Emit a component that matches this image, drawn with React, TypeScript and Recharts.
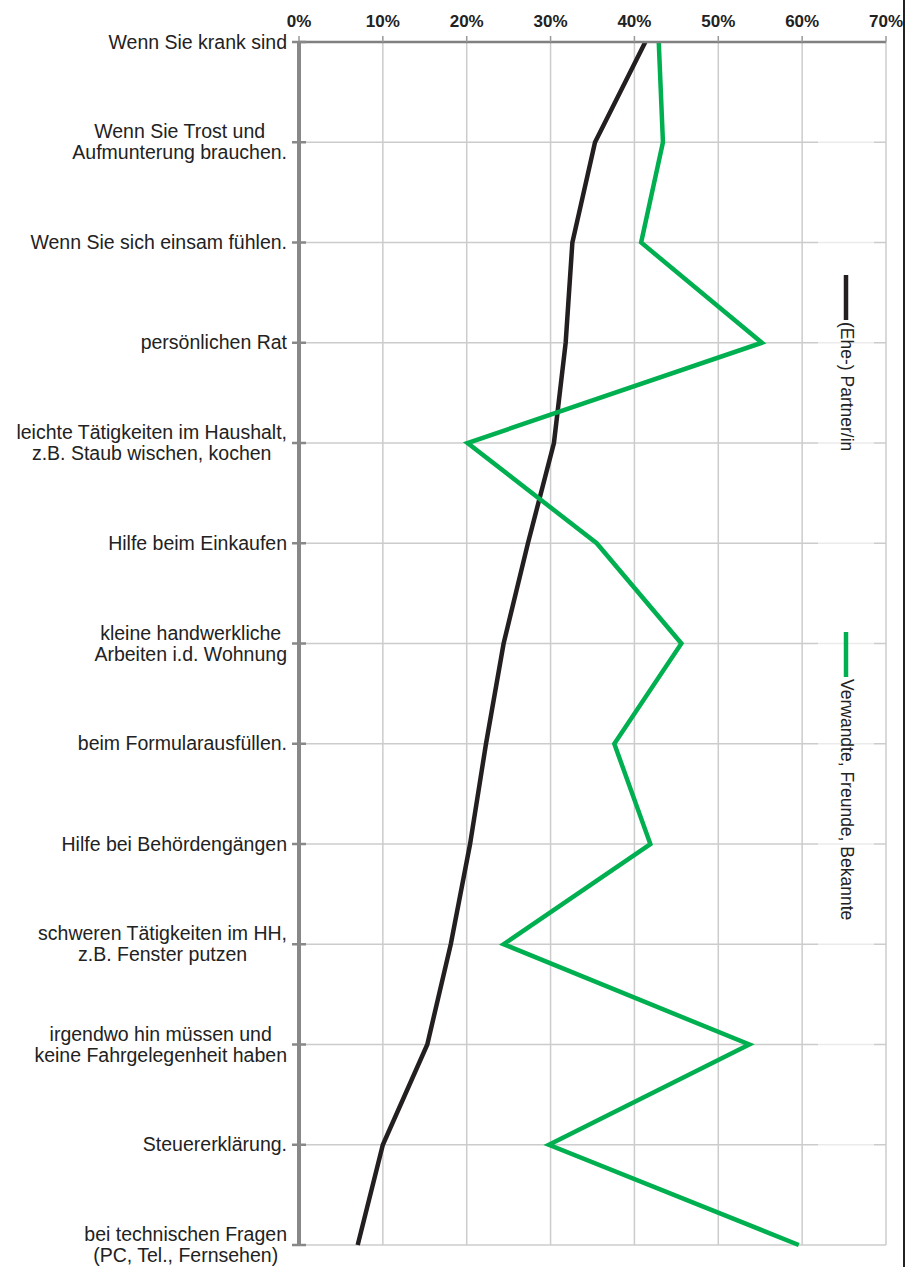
import { LineChart, Line, XAxis, YAxis, CartesianGrid, Legend } from 'recharts';

// Hilfe-Kategorien (Zeilenumbruch mit \n)
const categories = [
    'Wenn Sie krank sind',
    'Wenn Sie Trost und\nAufmunterung brauchen.',
    'Wenn Sie sich einsam fühlen.',
    'persönlichen Rat',
    'leichte Tätigkeiten im Haushalt,\nz.B. Staub wischen, kochen',
    'Hilfe beim Einkaufen',
    'kleine handwerkliche\nArbeiten i.d. Wohnung',
    'beim Formularausfüllen.',
    'Hilfe bei Behördengängen',
    'schweren Tätigkeiten im HH,\nz.B. Fenster putzen',
    'irgendwo hin müssen und\nkeine Fahrgelegenheit haben',
    'Steuererklärung.',
    'bei technischen Fragen\n(PC, Tel., Fernsehen)',
];

const partnerValues = [41.3, 35.3, 32.6, 31.8, 30.4, 27.3, 24.4, 22.3, 20.4, 18.1, 15.3, 10.0, 7.0];
const friendsValues = [42.9, 43.4, 40.8, 55.2, 20.1, 35.5, 45.6, 37.6, 41.9, 24.4, 53.7, 29.8, 59.6];

const xTicks = [0, 10, 20, 30, 40, 50, 60, 70];

const seriesNames = ['(Ehe-) Partner/in', 'Verwandte, Freunde, Bekannte'];
const seriesColors = ['#231f20', '#00b050'];

const FONT = '"Liberation Sans", Arial, sans-serif';

const chartData = categories.map((name, i) => ({
    name,
    partner: partnerValues[i],
    friends: friendsValues[i],
}));

/**
 * Top axis percentage label
 */
function PercentTick({ x, payload }: any) {
    return (
        <text x={x} y={27} textAnchor="middle" fontFamily={FONT} fontSize={17} fontWeight="bold" fill="#222">
            {`${payload.value}%`}
        </text>
    );
}

/**
 * Category label, lines centred against each other, block right-aligned
 */
function CategoryTick({ y, payload }: any) {
    const lines = String(payload.value).split('\n');
    return (
        <g>
            <line x1={292} x2={306} y1={y} y2={y} stroke="#888" strokeWidth={2.5} />
            <foreignObject x={0} y={y - 30} width={287} height={60}>
                <div
                    style={{
                        width: 287,
                        height: 60,
                        display: 'flex',
                        alignItems: 'center',
                        justifyContent: 'flex-end',
                    }}
                >
                    <div
                        style={{
                            textAlign: 'center',
                            fontFamily: FONT,
                            fontSize: 19.5,
                            lineHeight: '21px',
                            color: '#222',
                            whiteSpace: 'nowrap',
                        }}
                    >
                        {lines.map((l, i) => (
                            <div key={i}>{l}</div>
                        ))}
                    </div>
                </div>
            </foreignObject>
        </g>
    );
}

// vertical legend, rotated text
const legendSlots = [220, 577];

function VerticalLegend({ payload }: any) {
    return (
        <svg width={56} height={1175} style={{ display: 'block' }}>
            {(payload || []).map((p: any, i: number) => {
                const top = legendSlots[i];
                return (
                    <g key={p.value}>
                        <line x1={28} x2={28} y1={top} y2={top + 45} stroke={p.color} strokeWidth={4.5} />
                        <text
                            x={23}
                            y={top + 47}
                            transform={`rotate(90 23 ${top + 47})`}
                            fontFamily={FONT}
                            fontSize={17.5}
                            fill="#222"
                        >
                            {p.value}
                        </text>
                    </g>
                );
            })}
        </svg>
    );
}

export default function App() {
    return (
        <div style={{ position: 'absolute', left: 0, top: 0, width: 906, height: 1267, background: '#fff' }}>
            <LineChart
                width={906}
                height={1267}
                data={chartData}
                layout="vertical"
                margin={{ top: 0, right: 20, bottom: 22, left: 0 }}
            >
                <CartesianGrid stroke="#cccccc" strokeWidth={1.5} />
                <XAxis
                    type="number"
                    orientation="top"
                    domain={[0, 70]}
                    ticks={xTicks}
                    height={42}
                    axisLine={{ stroke: '#808080', strokeWidth: 2.5 }}
                    tickLine={{ stroke: '#999', strokeWidth: 1.5 }}
                    tickSize={6}
                    tick={<PercentTick />}
                    interval={0}
                />
                <YAxis
                    type="category"
                    dataKey="name"
                    scale="point"
                    padding={{ top: 0, bottom: 0 }}
                    width={299}
                    axisLine={{ stroke: '#888', strokeWidth: 4 }}
                    tickLine={false}
                    tick={<CategoryTick />}
                    interval={0}
                />
                <Legend
                    layout="vertical"
                    align="center"
                    verticalAlign="middle"
                    wrapperStyle={{
                        left: 818,
                        top: 55,
                        width: 56,
                        height: 1175,
                        backgroundColor: 'rgba(255,255,255,0.6)',
                    }}
                    content={<VerticalLegend />}
                />
                <Line
                    type="linear"
                    dataKey="partner"
                    name={seriesNames[0]}
                    stroke={seriesColors[0]}
                    strokeWidth={4.5}
                    dot={false}
                    isAnimationActive={false}
                />
                <Line
                    type="linear"
                    dataKey="friends"
                    name={seriesNames[1]}
                    stroke={seriesColors[1]}
                    strokeWidth={4.5}
                    dot={false}
                    isAnimationActive={false}
                />
            </LineChart>
            <div style={{ position: 'absolute', left: 903, top: 0, width: 2, height: 1267, background: '#222' }} />
        </div>
    );
}
